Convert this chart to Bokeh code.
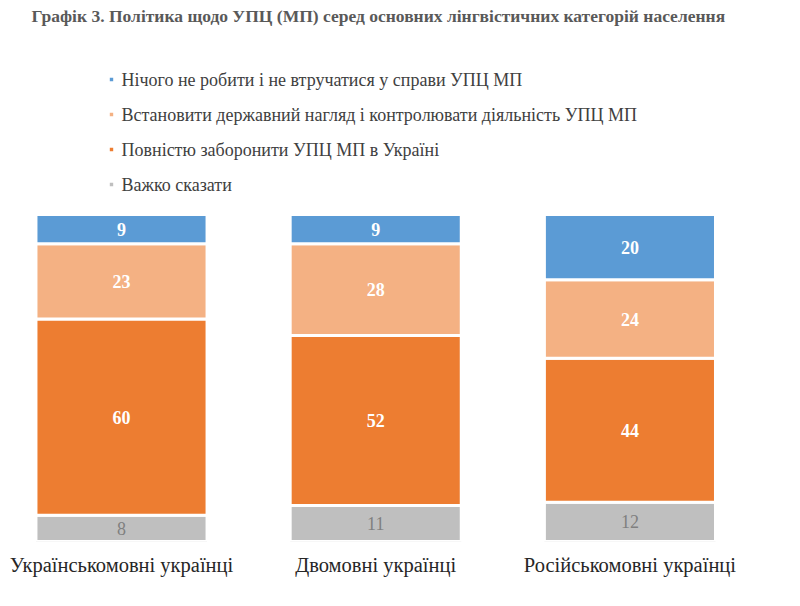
from bokeh.plotting import figure
from bokeh.models import ColumnDataSource, Range1d, FixedTicker, Legend, LegendItem, LabelSet
from bokeh.embed import file_html
from bokeh.resources import INLINE

# ---- data ----
categories = ["Українськомовні українці", "Двомовні українці", "Російськомовні українці"]
series_names = [
    "Нічого не робити і не втручатися у справи УПЦ МП",
    "Встановити державний нагляд і контролювати діяльність УПЦ МП",
    "Повністю заборонити УПЦ МП в Україні",
    "Важко сказати",
]
nothing = [9, 9, 20]
supervise = [23, 28, 24]
ban = [60, 52, 44]
hard_to_say = [8, 11, 12]

title_text = "Графік 3. Політика щодо УПЦ (МП) серед основних лінгвістичних категорій населення"

colors = {"hard": "#bfbfbf", "ban": "#ed7d31", "sup": "#f4b183", "not": "#5b9bd5"}
SERIF = "'Liberation Serif', 'Times New Roman', serif"
SANS = "'Liberation Sans', Arial, sans-serif"

W, H, FRAME_H = 784, 590, 541
X0, X1 = -0.476, 2.608
Y0, Y1 = 0, 165.4

def sx(px):  # screen px (from left) -> data x
    return X0 + px * (X1 - X0) / W

def sy(py):  # screen px (from top) -> data y
    return Y0 + (FRAME_H - py) * (Y1 - Y0) / FRAME_H

x = list(range(len(categories)))
src = ColumnDataSource(dict(x=x, hard=hard_to_say, ban=ban, sup=supervise, nothing=nothing))

p = figure(width=W, height=H, output_backend="svg", toolbar_location=None,
           x_range=Range1d(X0, X1), y_range=Range1d(Y0, Y1),
           min_border_left=0, min_border_right=0, min_border_top=0, min_border_bottom=H - FRAME_H)

stack_keys = ["hard", "ban", "sup", "nothing"]
stack_colors = [colors["hard"], colors["ban"], colors["sup"], colors["not"]]
renderers = p.vbar_stack(stack_keys, x="x", width=0.673, source=src,
                         fill_color=stack_colors, line_color="white", line_width=3)

def mids(order_vals):
    res = []
    base = [0] * len(categories)
    for vals in order_vals:
        res.append([b + v / 2 for b, v in zip(base, vals)])
        base = [b + v for b, v in zip(base, vals)]
    return res

m = mids([hard_to_say, ban, supervise, nothing])
for vals, ys, col, bold in [(hard_to_say, m[0], "#7f7f7f", False),
                            (ban, m[1], "white", True),
                            (supervise, m[2], "white", True),
                            (nothing, m[3], "white", True)]:
    ls = ColumnDataSource(dict(x=x, y=ys, t=[str(v) for v in vals]))
    p.add_layout(LabelSet(x="x", y="y", text="t", source=ls, text_align="center",
                          text_baseline="middle", text_color=col, text_font=SERIF,
                          text_font_size="18px", text_font_style="bold" if bold else "normal"))

# title
title_src = ColumnDataSource(dict(tx=[sx(31)], ty=[sy(15)], t=[title_text]))
p.add_layout(LabelSet(x="tx", y="ty", text="t", source=title_src,
                      text_font=SANS, text_font_style="bold",
                      text_font_size="17.5px", text_color="#595959", text_baseline="middle"))

# legend labels (serif) as a LabelSet
leg_src = ColumnDataSource(dict(lx=[sx(121)] * len(series_names),
                                ly=[sy(79 + 35 * i) for i in range(len(series_names))],
                                t=series_names))
p.add_layout(LabelSet(x="lx", y="ly", text="t", source=leg_src,
                      text_font=SERIF, text_font_size="18px", text_color="#404040",
                      text_baseline="middle"))

# legend colour keys, added last
legend_renderers = [renderers[3], renderers[2], renderers[1], renderers[0]]
legend = Legend(items=[LegendItem(label=" ", renderers=[r]) for r in legend_renderers],
   location=(107, 347), glyph_width=8, glyph_height=8, label_height=20, label_width=1,
   spacing=15, padding=0, margin=0, label_standoff=0, border_line_color=None,
   background_fill_alpha=0, label_text_font_size="1px")
p.add_layout(legend)

p.xaxis.ticker = FixedTicker(ticks=x)
p.xaxis.major_label_overrides = {i: c for i, c in zip(x, categories)}
p.xaxis.major_label_text_font = SERIF
p.xaxis.major_label_text_font_size = "20.5px"
p.xaxis.major_label_text_color = "#262626"
p.xaxis.major_label_standoff = 6
p.xaxis.axis_line_color = None
p.xaxis.major_tick_line_color = None
p.xaxis.minor_tick_line_color = None
p.yaxis.visible = False
p.xgrid.grid_line_color = None
p.ygrid.grid_line_color = None
p.outline_line_color = None

open("out.html", "w").write(file_html(p, INLINE))
